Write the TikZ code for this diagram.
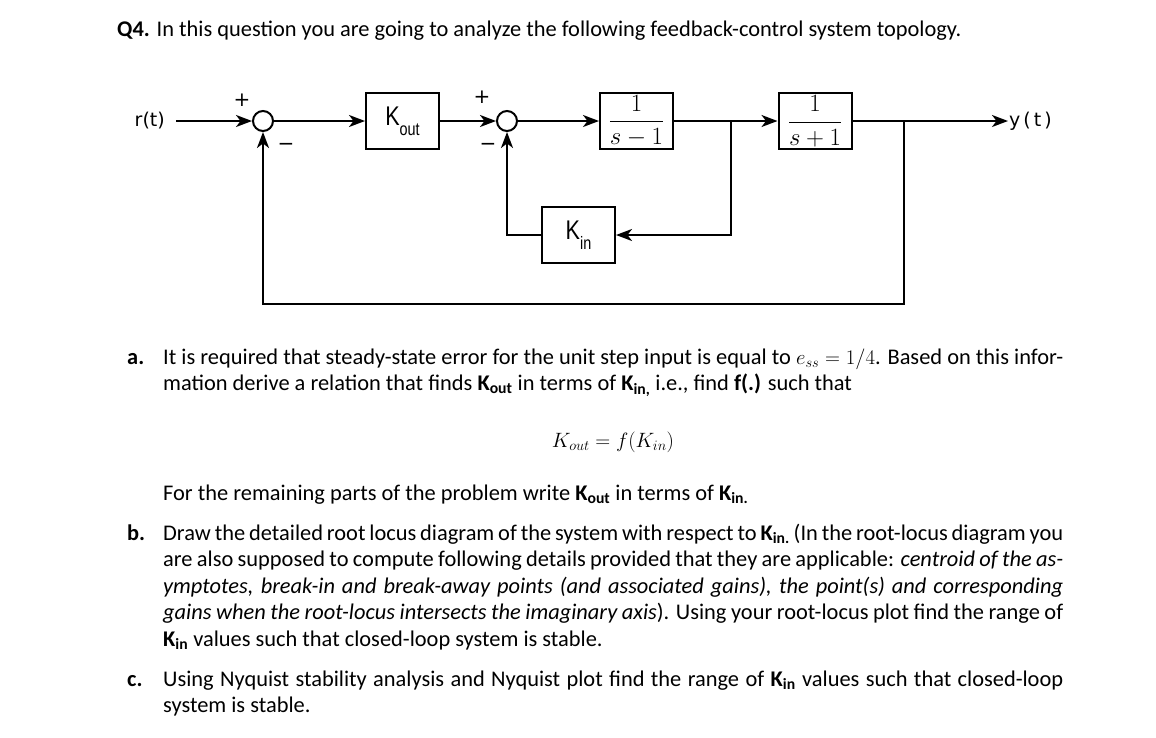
\documentclass[tikz,border=0pt]{standalone}
\usepackage[no-math]{fontspec}
\setmainfont{Carlito}
\newfontfamily\diafont[FakeStretch=0.8]{Liberation Sans}
\newfontfamily\sigfont{DejaVu Sans}
\usetikzlibrary{arrows.meta}
\newcommand\Kb[1]{\textbf{K\textsubscript{#1}}}
\newcommand\Kbox[1]{K\raisebox{-10pt}{\fontsize{18}{18}\selectfont#1}}
\begin{document}
\begin{tikzpicture}[x=1pt,y=-1pt,font=\fontsize{22.4}{26.5}\selectfont]
\tikzstyle{blk}=[draw, line width=2pt, minimum width=73pt, minimum height=56pt, inner sep=0]
\tikzstyle{kblk}=[blk, font=\diafont\fontsize{27}{27}\selectfont]
\tikzstyle{fblk}=[blk, font=\fontsize{24}{24}\selectfont]
\tikzstyle{sum}=[circle, draw, line width=2pt, minimum size=20pt, inner sep=0]
\tikzstyle{arr}=[line width=2pt, -{Stealth[length=16pt,width=12pt,inset=4.5pt]}]
\tikzstyle{sig}=[inner sep=0, font=\sigfont\fontsize{19}{19}\selectfont]
\tikzstyle{sgn}=[inner sep=0, font=\sigfont\fontsize{20}{20}\selectfont]
\tikzstyle{txt}=[anchor=base west, inner sep=0]
\tikzstyle{par}=[txt, text width=900pt, align=justify]
\useasboundingbox(0,0)rectangle(1156,737);
\node[txt](q4)at(117,36){\textbf{Q4.} In this question you are going to analyze the following feedback-control system topology.};
\node[sig,anchor=east](rt)at(165,121){r(t)};
\node[sum](s1)at(263,121){};
\node[kblk](kout)at(402.5,121){\Kbox{out}};
\node[sum](s2)at(507,121){};
\node[fblk](b1)at(636.5,121){$\displaystyle\frac{1}{s-1}$};
\node[fblk](b2)at(815,121){$\displaystyle\frac{1}{s+1}$};
\node[sig,anchor=west,inner sep=1pt](yt)at(1008,121){y\kern3pt(\kern3pt t\kern3pt)};
\node[kblk](kin)at(578.5,235){\Kbox{in}};
\node[sgn](pl1)at(242,100){+};
\node[sgn](mi1)at(286,147){−};
\node[sgn](pl2)at(482,97){+};
\node[sgn](mi2)at(488,147){−};
\coordinate(p1)at(731,121);
\coordinate(p2)at(904,121);
\coordinate(p3)at(904,304);
\draw[arr,shorten <=11pt](rt)--(s1);
\draw[arr](s1)--(kout);
\draw[arr](kout)--(s2);
\draw[arr](s2)--(b1);
\draw[arr](b1)--(b2);
\draw[arr](b2)--(yt.west);
\draw[arr](p1)|-(kin);
\draw[arr](kin)-|(s2);
\draw[arr](p2)--(p3)-|(s1);
\node[txt](la)at(127,364){\textbf{a.}};
\node[par](pa)at(163,364){It is required that steady-state error for the unit step input is equal to $e_{ss}=1/4$. Based on this infor-\linebreak mation derive a relation that finds \Kb{out} in terms of \Kb{in,} i.e., find \textbf{f(.)} such that};
\node[anchor=base](eq)at(613,447){$K_{out}=f(K_{in})$};
\node[par](pr)at(163,500){For the remaining parts of the problem write \Kb{out} in terms of \Kb{in.}};
\node[txt](lb)at(127,540){\textbf{b.}};
\node[par](pb)at(163,540){Draw the detailed root locus diagram of the system with respect to \Kb{in.} (In the root-locus diagram you\linebreak are also supposed to compute following details provided that they are applicable: \textit{centroid of the as-\linebreak ymptotes, break-in and break-away points (and associated gains), the point(s) and corresponding\linebreak gains when the root-locus intersects the imaginary axis}). Using your root-locus plot find the range of\linebreak \Kb{in} values such that closed-loop system is stable.};
\node[txt](lc)at(127,686){\textbf{c.}};
\node[par](pc)at(163,686){Using Nyquist stability analysis and Nyquist plot find the range of \Kb{in} values such that closed-loop\linebreak system is stable.};
\end{tikzpicture}
\end{document}
